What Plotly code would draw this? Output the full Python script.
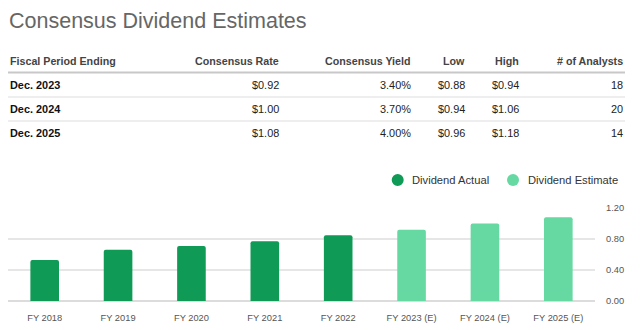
import plotly.graph_objects as go

# Consensus table
table_headers = ["Fiscal Period Ending", "Consensus Rate", "Consensus Yield", "Low", "High", "# of Analysts"]
periods = ["Dec. 2023", "Dec. 2024", "Dec. 2025"]
consensus_rate = ["$0.92", "$1.00", "$1.08"]
consensus_yield = ["3.40%", "3.70%", "4.00%"]
low = ["$0.88", "$0.94", "$0.96"]
high = ["$0.94", "$1.06", "$1.18"]
analysts = ["18", "20", "14"]

# Bar chart
actual_years = ["FY 2018", "FY 2019", "FY 2020", "FY 2021", "FY 2022"]
actual_values = [0.53, 0.66, 0.71, 0.77, 0.85]
estimate_years = ["FY 2023 (E)", "FY 2024 (E)", "FY 2025 (E)"]
estimate_values = [0.92, 1.00, 1.08]
y_ticks = [0.0, 0.4, 0.8, 1.2]
legend_names = ["Dividend Actual", "Dividend Estimate"]

W, H = 640, 330
FONT = "Liberation Sans, Arial, sans-serif"
ACTUAL = "#0f9b56"
ESTIMATE = "#66d9a2"

fig = go.Figure()
fig.add_trace(go.Bar(x=actual_years, y=actual_values, name=legend_names[0],
                     marker=dict(color=ACTUAL, line=dict(width=0)), hoverinfo="x+y"))
fig.add_trace(go.Bar(x=estimate_years, y=estimate_values, name=legend_names[1],
                     marker=dict(color=ESTIMATE, line=dict(width=0)), hoverinfo="x+y"))

# plot area in pixels: x 8..595, y 208..301 (1.20 .. 0.00)
x0, x1 = 8, 595
y_top, y_bot = 208, 301


def px(x):
    return x / W


def py(y):
    return 1 - y / H


annotations = []
shapes = []

# title
annotations.append(dict(x=px(7), y=py(21), xref="paper", yref="paper", xanchor="left", yanchor="middle",
                        text="Consensus Dividend Estimates", showarrow=False,
                        font=dict(family=FONT, size=21.5, color="#666666")))

# table columns: (edge x, anchor)
col_pos = [(8, "left"), (281, "right"), (413, "right"), (467, "right"), (521, "right"), (625, "right")]
header_y = 61
row_ys = [85, 109, 133]

for (cx, anc), h in zip(col_pos, table_headers):
    annotations.append(dict(x=px(cx), y=py(header_y), xref="paper", yref="paper", xanchor=anc, yanchor="middle",
                            text=f"<b>{h}</b>", showarrow=False,
                            font=dict(family=FONT, size=10.7, color="#444444")))

rows = list(zip(periods, consensus_rate, consensus_yield, low, high, analysts))
for ry, row in zip(row_ys, rows):
    for i, ((cx, anc), val) in enumerate(zip(col_pos, row)):
        txt = f"<b>{val}</b>" if i == 0 else val
        annotations.append(dict(x=px(cx), y=py(ry), xref="paper", yref="paper", xanchor=anc, yanchor="middle",
                                text=txt, showarrow=False,
                                font=dict(family=FONT, size=10.9, color="#111111" if i == 0 else "#222222")))

# table rules
shapes.append(dict(type="line", xref="paper", yref="paper", x0=px(8), x1=px(625), y0=py(72.5), y1=py(72.5),
                   line=dict(color="#c8c8c8", width=2)))
for ly in [97, 121]:
    shapes.append(dict(type="line", xref="paper", yref="paper", x0=px(8), x1=px(625), y0=py(ly), y1=py(ly),
                       line=dict(color="#e8e8e8", width=1.5)))

# legend: round swatches with labels
legend_items = [(397.7, 410, ACTUAL), (513, 526, ESTIMATE)]
for (cx, tx, col), name in zip(legend_items, legend_names):
    r = 6
    shapes.append(dict(type="circle", xref="paper", yref="paper",
                       x0=px(cx - r), x1=px(cx + r), y0=py(180 + r), y1=py(180 - r),
                       fillcolor=col, line=dict(width=0)))
    annotations.append(dict(x=px(tx), y=py(180), xref="paper", yref="paper", xanchor="left", yanchor="middle",
                            text=name, showarrow=False,
                            font=dict(family=FONT, size=11.2, color="#333333")))

# y tick labels on the right
for t in y_ticks:
    annotations.append(dict(x=px(604), y=t, xref="paper", yref="y", xanchor="left", yanchor="middle",
                            text=f"{t:.2f}", showarrow=False,
                            font=dict(family=FONT, size=9.3, color="#555555")))

fig.update_layout(
    template="none",
    width=W, height=H,
    margin=dict(l=0, r=0, t=0, b=0, autoexpand=False),
    paper_bgcolor="white", plot_bgcolor="white",
    barmode="group", bargap=0.61,
    showlegend=False,
    xaxis=dict(domain=[px(x0), px(x1)], categoryorder="array",
               categoryarray=actual_years + estimate_years,
               showgrid=False, showline=False, zeroline=False, ticks="", automargin=False,
               tickfont=dict(family=FONT, size=9.3, color="#555555"), ticklabelstandoff=10,
               fixedrange=True),
    yaxis=dict(domain=[(H - y_bot) / H, (H - y_top) / H], range=[0, 1.2], tickvals=y_ticks,
               showticklabels=False, automargin=False, ticks="",
               showgrid=True, gridcolor="#e6e6e6", gridwidth=1.5, zeroline=True, zerolinecolor="#dcdcdc",
               zerolinewidth=2, showline=False, fixedrange=True),
    annotations=annotations,
    shapes=shapes,
    barcornerradius=2,
    font=dict(family=FONT),
)

fig.write_html("out.html", config={"displayModeBar": False})
